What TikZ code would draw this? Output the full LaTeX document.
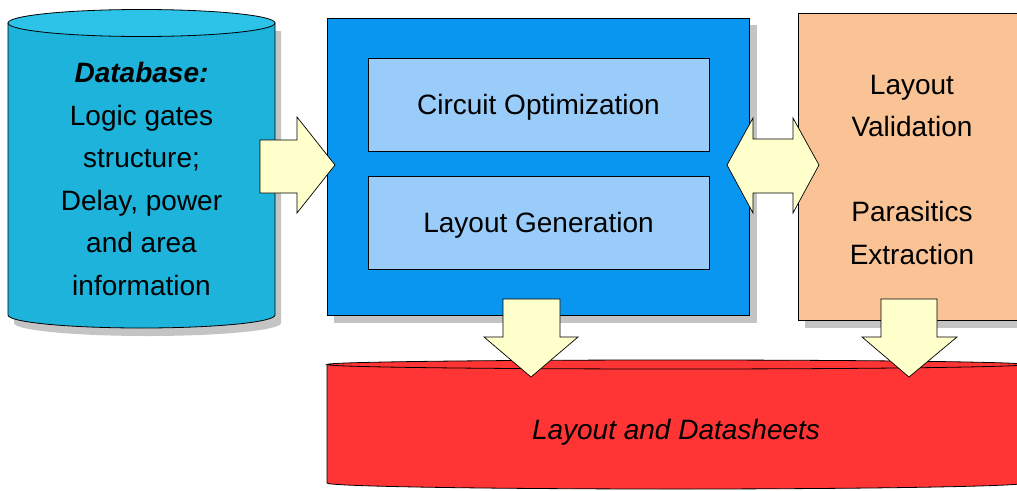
\documentclass[tikz,border=0pt]{standalone}
\usepackage{fontspec}
\setmainfont{Liberation Sans}
\usepackage{xcolor}
\usepackage{tikz}
\usetikzlibrary{calc, positioning}

\definecolor{dbcyan}{HTML}{1EB3DB}
\definecolor{dbtop}{HTML}{2DC2E8}
\definecolor{flowblue}{HTML}{0896F0}
\definecolor{steplight}{HTML}{9ACCFA}
\definecolor{checkpeach}{HTML}{F9C396}
\definecolor{outred}{HTML}{FF3434}
\definecolor{arrowfill}{HTML}{FFFFCC}
\definecolor{shadowgray}{HTML}{C4C4C4}

\tikzset{
    label text/.style={font=\fontsize{28}{42.5}\selectfont, align=center, text=black},
    block/.style={draw=black, line width=0.8pt, inner sep=0pt},
    fatarrow/.style={draw=black, line width=0.7pt, fill=arrowfill},
    shadowfill/.style={fill=shadowgray, draw=none}
}

\begin{document}
\begin{tikzpicture}[x=1pt, y=-1pt]
    \clip (0,0) rectangle (1017,490);
    \fill[white] (0,0) rectangle (1017,490);

    % Cơ sở dữ liệu (hình trụ bên trái)
    \fill[shadowgray] (14,31) -- (14,323) arc[start angle=180, end angle=0, x radius=133.5, y radius=13] -- (281,31) -- cycle;
    \draw[block, fill=dbcyan] (8,23) -- (8,315) arc[start angle=180, end angle=0, x radius=133.5, y radius=13] -- (275,23) -- cycle;
    \draw[block, fill=dbtop] (141.5,23) ellipse[x radius=133.5, y radius=13.5];
    \node[label text] (db) at (141.5,179)
        {\textbf{\textit{Database:}}\\Logic gates\\structure;\\Delay, power\\and area\\information};

    % Khối tối ưu và sinh layout
    \fill[shadowfill] (334,25) rectangle (757,323);
    \node[block, fill=flowblue, minimum width=422, minimum height=297] (flow) at (538,166.5) {};
    \node[block, fill=steplight, minimum width=341, minimum height=93, text depth=0pt, label text] (opt) at (538.5,104.5) {Circuit Optimization};
    \node[block, fill=steplight, minimum width=341, minimum height=93, text depth=0pt, label text] (gen) at (538.5,222.5) {Layout Generation};

    % Khối kiểm tra layout
    \fill[shadowfill] (805,20) rectangle (1040,328);
    \node[block, fill=checkpeach, minimum width=240, minimum height=307] (check) at (918,166.5) {};
    \node[label text] (checktext) at (912,170) {Layout\\Validation\\[42.5pt]Parasitics\\Extraction};

    % Kết quả (hình trụ đỏ)
    \draw[block, fill=outred] (327,364.5) -- (327,483) arc[start angle=180, end angle=0, x radius=349, y radius=6] -- (1025,364.5) -- cycle;
    \draw[block, fill=outred] (676,364.5) ellipse[x radius=349, y radius=4.5];
    \node[label text] (out) at (676,432) {\textit{Layout and Datasheets}};

    % Mũi tên khối
    \draw[fatarrow] (260,140) -- (297,140) -- (297,117) -- (335,165) -- (297,213) -- (297,193) -- (260,193) -- cycle;
    \draw[fatarrow] (727,165) -- (753,118) -- (753,139) -- (793,139) -- (793,118) -- (819,165)
        -- (793,213) -- (793,193) -- (753,193) -- (753,213) -- cycle;
    \draw[fatarrow] (503,299) -- (560,299) -- (560,337) -- (578,337) -- (531,377) -- (484,337) -- (503,337) -- cycle;
    \draw[fatarrow] (881,299) -- (937,299) -- (937,337) -- (957,337) -- (909,377) -- (862,337) -- (881,337) -- cycle;

\end{tikzpicture}
\end{document}
